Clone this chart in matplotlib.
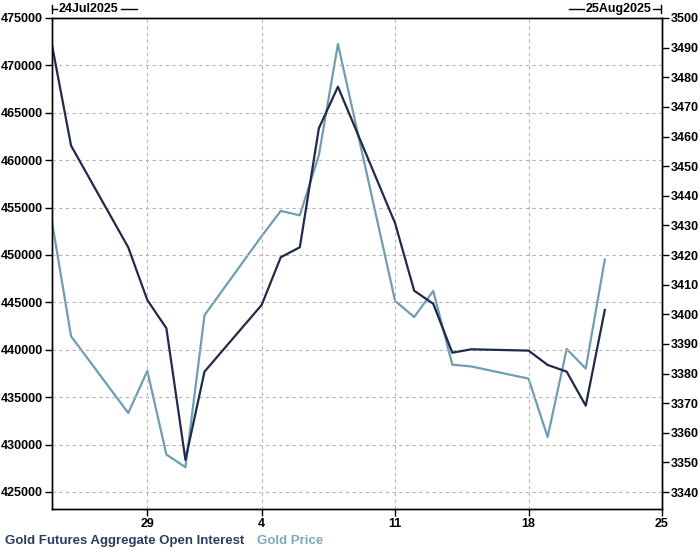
import numpy as np
import pandas as pd
import matplotlib
matplotlib.use("Agg")
import matplotlib.pyplot as plt
import matplotlib.dates as mdates
from matplotlib.lines import Line2D

# ------------------------------------------------------------
# Data
# ------------------------------------------------------------
dates = pd.to_datetime([
    "2025-07-24", "2025-07-25", "2025-07-28", "2025-07-29", "2025-07-30",
    "2025-07-31", "2025-08-01", "2025-08-04", "2025-08-05", "2025-08-06",
    "2025-08-07", "2025-08-08", "2025-08-11", "2025-08-12", "2025-08-13",
    "2025-08-14", "2025-08-15", "2025-08-18", "2025-08-19", "2025-08-20",
    "2025-08-21", "2025-08-22",
])

open_interest = [
    472150, 461530, 450800, 445250, 442270,
    428380, 437690, 444730, 449760, 450810,
    463370, 467750, 453340, 446230, 444850,
    439690, 440050, 439910, 438400, 437690,
    434100, 444200,
]

gold_price = [
    3431.2, 3392.6, 3366.7, 3380.9, 3352.7,
    3348.4, 3399.7, 3426.4, 3434.9, 3433.4,
    3453.7, 3491.2, 3404.5, 3399.1, 3407.9,
    3383.0, 3382.4, 3378.3, 3358.6, 3388.3,
    3381.7, 3418.5,
]

x_ticks = pd.to_datetime(["2025-07-29", "2025-08-04", "2025-08-11",
                          "2025-08-18", "2025-08-25"])
left_ticks = np.arange(425000, 475001, 5000)
right_ticks = np.arange(3340, 3501, 10)

start_label = "24Jul2025"
end_label = "25Aug2025"

oi_name = "Gold Futures Aggregate Open Interest"
price_name = "Gold Price"

# ------------------------------------------------------------
# Style
# ------------------------------------------------------------
plt.rcParams.update({
    "font.family": ["Liberation Sans", "DejaVu Sans"],
    "font.size": 9,
    "font.weight": "bold",
    "axes.linewidth": 1.0,
})

DARK = "#1f2b49"
LIGHT = "#6f9db2"
GRID = "#b4b4b4"
FS = 9

fig = plt.figure(figsize=(7, 5.5), dpi=100)
ax = fig.add_axes([52 / 700, 1 - 509 / 550, 610 / 700, 491 / 550])
ax2 = ax.twinx()

# price line underneath, open interest on top
ax2.plot(dates, gold_price, color=LIGHT, lw=1.6)
ax.plot(dates, open_interest, color=DARK, lw=1.6)
ax.set_zorder(ax2.get_zorder() + 1)
ax.patch.set_visible(False)

ax.set_xlim(pd.Timestamp("2025-07-24"), pd.Timestamp("2025-08-25"))
ax.set_ylim(423200, 475000)
ax2.set_ylim(3334.3, 3500)

ax.set_xticks(x_ticks)
ax.xaxis.set_major_formatter(
    matplotlib.ticker.FuncFormatter(lambda v, p: str(mdates.num2date(v).day)))
ax.set_yticks(left_ticks)
ax2.set_yticks(right_ticks)

ax.tick_params(axis="both", length=5, width=1, pad=1.5, labelsize=FS)
ax2.tick_params(axis="y", length=5, width=1, pad=1.5, labelsize=FS)
for lab in ax.get_xticklabels() + ax.get_yticklabels() + ax2.get_yticklabels():
    lab.set_fontweight("bold")

ax.grid(True, color=GRID, ls=(0, (3, 3)), lw=0.8)

# date range markers above the plot
y_top = 1 - 9 / 550
fig.lines += [
    Line2D([52 / 700, 52 / 700], [1 - 5 / 550, 1 - 13 / 550], color="black", lw=1, transform=fig.transFigure),
    Line2D([52 / 700, 57 / 700], [y_top, y_top], color="black", lw=1, transform=fig.transFigure),
    Line2D([121 / 700, 137 / 700], [y_top, y_top], color="black", lw=1, transform=fig.transFigure),
    Line2D([569 / 700, 584 / 700], [y_top, y_top], color="black", lw=1, transform=fig.transFigure),
    Line2D([653 / 700, 661 / 700], [y_top, y_top], color="black", lw=1, transform=fig.transFigure),
    Line2D([661 / 700, 661 / 700], [1 - 5 / 550, 1 - 13 / 550], color="black", lw=1, transform=fig.transFigure),
]
fig.text(59 / 700, y_top, start_label, ha="left", va="center", fontsize=FS, fontweight="bold")
fig.text(652 / 700, y_top, end_label, ha="right", va="center", fontsize=FS, fontweight="bold")

# legend text
fig.text(5 / 700, 1 - 541 / 550, oi_name, ha="left", va="center",
         fontsize=9.5, fontweight="bold", color="#2c3b5e")
fig.text(257 / 700, 1 - 541 / 550, price_name, ha="left", va="center",
         fontsize=9.5, fontweight="bold", color="#7fa8bb")

fig.savefig("out.png", dpi=100)
